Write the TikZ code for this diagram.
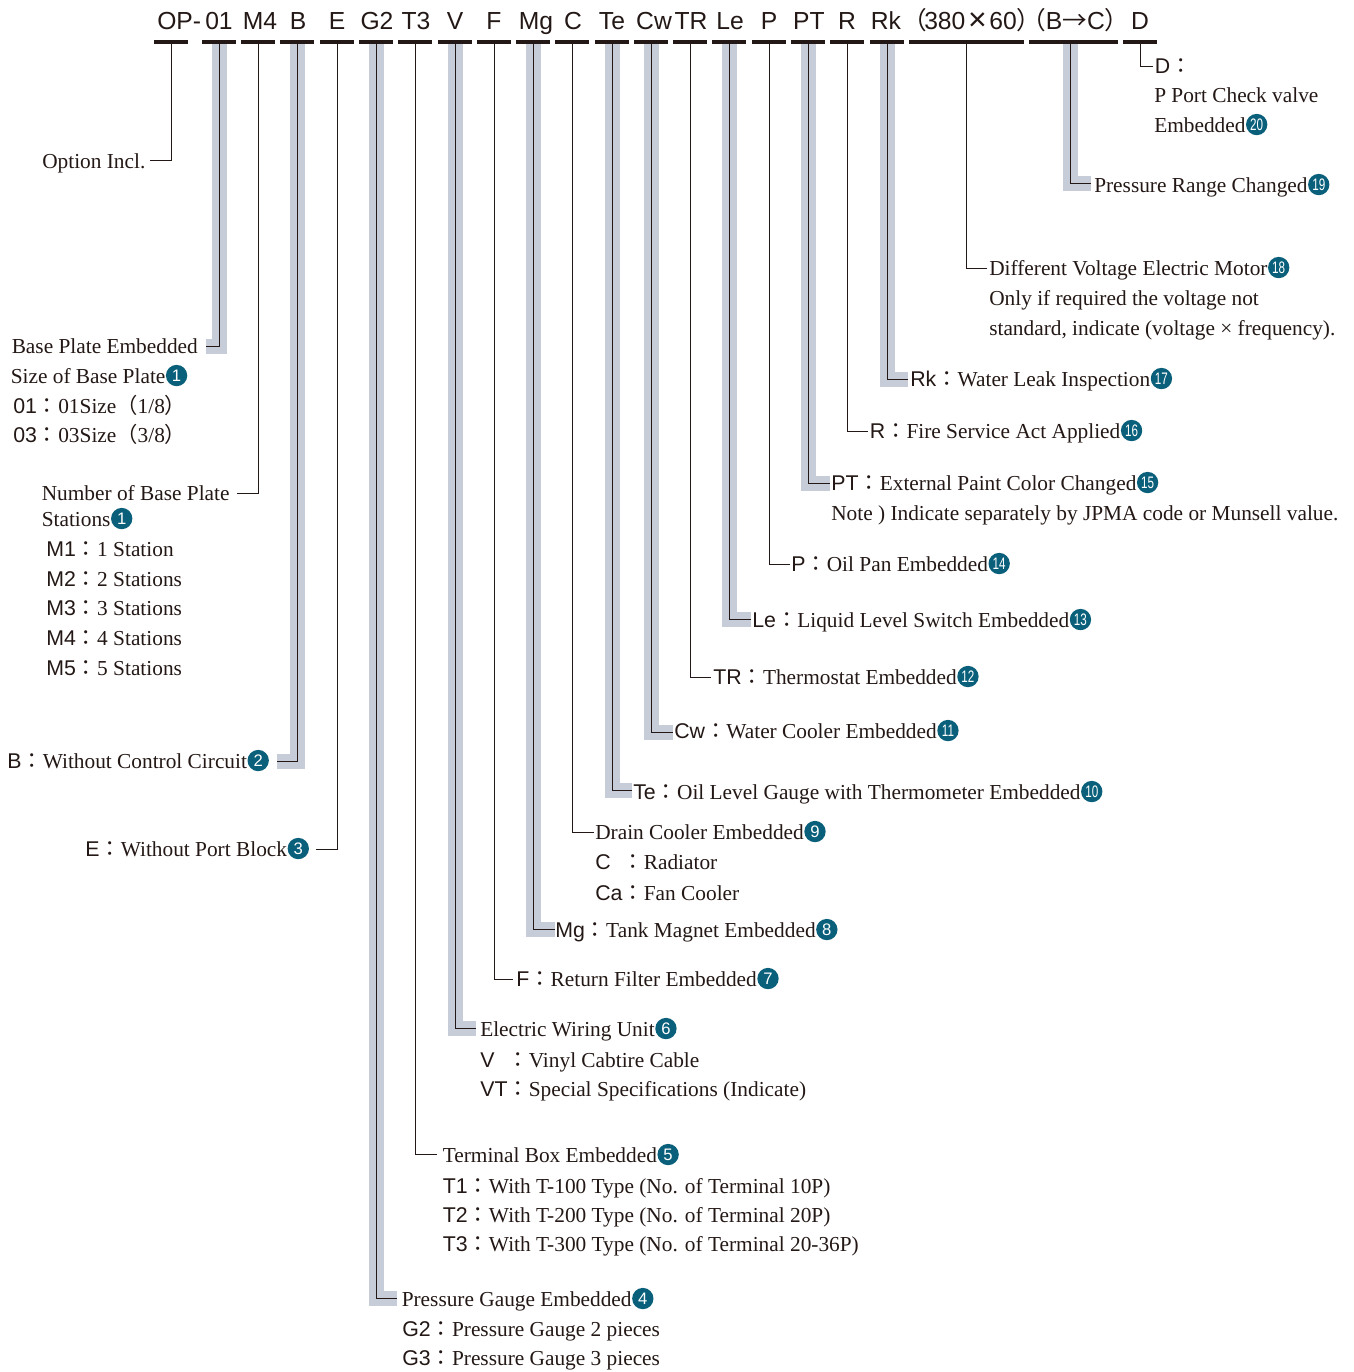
\documentclass[tikz,border=0pt]{standalone}
\usepackage{fontspec}
\usepackage{graphicx}
\setmainfont{Liberation Serif}
\setsansfont{Liberation Sans}
\newfontfamily\cjkfont{Noto Sans CJK JP}
\definecolor{inkblack}{HTML}{231815}
\definecolor{bandgray}{HTML}{C6CDD8}
\definecolor{dotblue}{HTML}{0A5F7A}
\newcommand{\keyc}[1]{{\sffamily\fontsize{16}{20}\selectfont #1}\raisebox{-0.7pt}{\cjkfont ：}}
\newcommand{\narrow}[1]{\scalebox{.7}[1]{#1}}

\begin{document}
\begin{tikzpicture}[x=0.75pt, y=-0.75pt,
    header/.style={anchor=base, inner sep=0pt, text=inkblack, font=\sffamily\fontsize{18.5}{22}\selectfont},
    keybar/.style={fill=inkblack, inner sep=0pt, minimum height=3pt, minimum width=25pt},
    lab/.style={anchor=base west, inner sep=0pt, text=inkblack, font=\fontsize{16}{20}\selectfont},
    numdot/.style={circle, fill=dotblue, anchor=west, inner sep=0pt, minimum size=16pt, yshift=5.6pt, text=white, font=\sffamily\fontsize{12.5}{13}\selectfont},
    leader/.style={draw=inkblack, line width=0.75pt},
    band/.style={draw=bandgray, line width=11.25pt, miter limit=10}]
    \useasboundingbox (0,0) rectangle (1354,1372);

    % header row
    \node[header, anchor=base west] (hOP) at (157,29.3) {OP-};
    \node[header] (h01) at (219,29.3) {01};
    \node[header] (hM4) at (260,29.3) {M4};
    \node[header] (hB) at (298,29.3) {B};
    \node[header] (hE) at (337,29.3) {E};
    \node[header] (hG2) at (377,29.3) {G2};
    \node[header] (hT3) at (416,29.3) {T3};
    \node[header] (hV) at (455,29.3) {V};
    \node[header] (hF) at (494,29.3) {F};
    \node[header] (hMg) at (536,29.3) {Mg};
    \node[header] (hC) at (573,29.3) {C};
    \node[header] (hTe) at (612,29.3) {Te};
    \node[header] (hCw) at (654,29.3) {Cw};
    \node[header] (hTR) at (691,29.3) {TR};
    \node[header] (hLe) at (730,29.3) {Le};
    \node[header] (hP) at (769,29.3) {P};
    \node[header] (hPT) at (809,29.3) {PT};
    \node[header] (hR) at (847,29.3) {R};
    \node[header] (hRk) at (886,29.3) {Rk};
    \node[header, anchor=base west] (hVolt) at (902,29.3) {{\cjkfont （}\hspace*{-2pt}380\hspace*{2pt}\raisebox{-1pt}{\scalebox{1.3}{×}}\hspace*{2pt}60{\cjkfont ）}};
    \node[header, anchor=base west] (hRange) at (1021,29.3) {{\cjkfont （}B{\cjkfont →}C{\cjkfont ）}};
    \node[header] (hD) at (1140,29.3) {D};

    % bars under the header
    \node[keybar] (bOP) at (171,42) {};
    \node[keybar] (b01) at (219,42) {};
    \node[keybar] (bM4) at (258,42) {};
    \node[keybar] (bB) at (297,42) {};
    \node[keybar] (bE) at (337,42) {};
    \node[keybar] (bG2) at (376,42) {};
    \node[keybar] (bT3) at (415,42) {};
    \node[keybar] (bV) at (455,42) {};
    \node[keybar] (bF) at (494,42) {};
    \node[keybar] (bMg) at (533,42) {};
    \node[keybar] (bC) at (572,42) {};
    \node[keybar] (bTe) at (612,42) {};
    \node[keybar] (bCw) at (651,42) {};
    \node[keybar] (bTR) at (690,42) {};
    \node[keybar] (bLe) at (729,42) {};
    \node[keybar] (bP) at (769,42) {};
    \node[keybar] (bPT) at (808,42) {};
    \node[keybar] (bR) at (847,42) {};
    \node[keybar] (bRk) at (887,42) {};
    \node[keybar, minimum width=86pt] (bVolt) at (966.5,42) {};
    \node[keybar, minimum width=67pt] (bRange) at (1073.5,42) {};
    \node[keybar] (bD) at (1140,42) {};

    % ends of the leaders
    \coordinate (eOP) at (150,160);
    \coordinate (e01) at (206,346);
    \coordinate (eM4) at (237,493);
    \coordinate (eB) at (277,761);
    \coordinate (eE) at (316,849);
    \coordinate (eG2) at (397,1298);
    \coordinate (eT3) at (437,1154);
    \coordinate (eV) at (476,1028);
    \coordinate (eF) at (513,979);
    \coordinate (eMg) at (555,929);
    \coordinate (eC) at (594,832);
    \coordinate (eTe) at (632,790);
    \coordinate (eCw) at (673,732);
    \coordinate (eTR) at (711,677);
    \coordinate (eLe) at (751,619);
    \coordinate (eP) at (790,564);
    \coordinate (ePT) at (830,483);
    \coordinate (eR) at (868,431);
    \coordinate (eRk) at (908,379);
    \coordinate (eVolt) at (987,268);
    \coordinate (eRange) at (1091,183);
    \coordinate (eD) at (1153,66);
    \coordinate (sRange) at (1070,44);

    % wide bands behind some leaders
    \draw[band] (b01.south) |- (e01);
    \draw[band] (bB.south) |- (eB);
    \draw[band] (bG2.south) |- (eG2);
    \draw[band] (bV.south) |- (eV);
    \draw[band] (bMg.south) |- (eMg);
    \draw[band] (bTe.south) |- (eTe);
    \draw[band] (bCw.south) |- (eCw);
    \draw[band] (bLe.south) |- (eLe);
    \draw[band] (bPT.south) |- (ePT);
    \draw[band] (bRk.south) |- (eRk);
    \draw[band] (sRange) |- (eRange);

    \draw[leader] (bOP) |- (eOP);
    \draw[leader] (b01) |- (e01);
    \draw[leader] (bM4) |- (eM4);
    \draw[leader] (bB) |- (eB);
    \draw[leader] (bE) |- (eE);
    \draw[leader] (bG2) |- (eG2);
    \draw[leader] (bT3) |- (eT3);
    \draw[leader] (bV) |- (eV);
    \draw[leader] (bF) |- (eF);
    \draw[leader] (bMg) |- (eMg);
    \draw[leader] (bC) |- (eC);
    \draw[leader] (bTe) |- (eTe);
    \draw[leader] (bCw) |- (eCw);
    \draw[leader] (bTR) |- (eTR);
    \draw[leader] (bLe) |- (eLe);
    \draw[leader] (bP) |- (eP);
    \draw[leader] (bPT) |- (ePT);
    \draw[leader] (bR) |- (eR);
    \draw[leader] (bRk) |- (eRk);
    \draw[leader] (bVolt) |- (eVolt);
    \draw[leader] (sRange) |- (eRange);
    \draw[leader] (bD) |- (eD);

    % left column
    \node[lab] (tOP) at (42,168) {Option Incl.};
    \node[lab] (t01) at (11.5,353) {Base Plate Embedded};
    \node[lab] (t01a) at (10.5,383) {Size of Base Plate};
    \node[numdot] (n01) at (t01a.base east) {1};
    \node[lab] (t01b) at (13,413) {\keyc{01}01Size{\cjkfont （}1/8{\cjkfont ）}};
    \node[lab] (t01c) at (13,442) {\keyc{03}03Size{\cjkfont （}3/8{\cjkfont ）}};
    \node[lab] (tM4) at (41.5,500) {Number of Base Plate};
    \node[lab] (tM4a) at (41.5,526) {Stations};
    \node[numdot] (nM4) at (tM4a.base east) {1};
    \node[lab] (tM1) at (46,556) {\keyc{M1}1 Station};
    \node[lab] (tM2) at (46,586) {\keyc{M2}2 Stations};
    \node[lab] (tM3) at (46,615) {\keyc{M3}3 Stations};
    \node[lab] (tM4b) at (46,645) {\keyc{M4}4 Stations};
    \node[lab] (tM5) at (46,675) {\keyc{M5}5 Stations};
    \node[lab] (tB) at (7,768) {\keyc{B}Without Control Circuit};
    \node[numdot] (nB) at (tB.base east) {2};
    \node[lab] (tE) at (85,856) {\keyc{E}Without Port Block};
    \node[numdot] (nE) at (tE.base east) {3};

    % staircase of labels, bottom to top
    \node[lab] (tG) at (401.5,1306) {Pressure Gauge Embedded};
    \node[numdot] (nG) at (tG.base east) {4};
    \node[lab] (tG2) at (402,1336) {\keyc{G2}Pressure Gauge 2 pieces};
    \node[lab] (tG3) at (402,1365) {\keyc{G3}Pressure Gauge 3 pieces};
    \node[lab] (tT) at (442.5,1162) {Terminal Box Embedded};
    \node[numdot] (nT) at (tT.base east) {5};
    \node[lab] (tT1) at (442.5,1193) {\keyc{T1}With T-100 Type (No. of Terminal 10P)};
    \node[lab] (tT2) at (442.5,1222) {\keyc{T2}With T-200 Type (No. of Terminal 20P)};
    \node[lab] (tT3) at (442.5,1251) {\keyc{T3}With T-300 Type (No. of Terminal 20-36P)};
    \node[lab] (tV) at (480,1036) {Electric Wiring Unit};
    \node[numdot] (nV) at (tV.base east) {6};
    \node[lab] (tV1) at (480,1067) {\keyc{V\phantom{T}}Vinyl Cabtire Cable};
    \node[lab] (tV2) at (480,1096) {\keyc{VT}Special Specifications (Indicate)};
    \node[lab] (tF) at (516,986) {\keyc{F}Return Filter Embedded};
    \node[numdot] (nF) at (tF.base east) {7};
    \node[lab] (tMg) at (555,937) {\keyc{Mg}Tank Magnet Embedded};
    \node[numdot] (nMg) at (tMg.base east) {8};
    \node[lab] (tC) at (595,839) {Drain Cooler Embedded};
    \node[numdot] (nC) at (tC.base east) {9};
    \node[lab] (tC1) at (595,869) {\keyc{C\phantom{a}}Radiator};
    \node[lab] (tC2) at (595,900) {\keyc{Ca}Fan Cooler};
    \node[lab] (tTe) at (633,799) {\keyc{Te}Oil Level Gauge with Thermometer Embedded};
    \node[numdot] (nTe) at (tTe.base east) {\narrow{10}};
    \node[lab] (tCw) at (674,738) {\keyc{Cw}Water Cooler Embedded};
    \node[numdot] (nCw) at (tCw.base east) {\narrow{11}};
    \node[lab] (tTR) at (713,684) {\keyc{TR}Thermostat Embedded};
    \node[numdot] (nTR) at (tTR.base east) {\narrow{12}};
    \node[lab] (tLe) at (752,627) {\keyc{Le}Liquid Level Switch Embedded};
    \node[numdot] (nLe) at (tLe.base east) {\narrow{13}};
    \node[lab] (tP) at (791,571) {\keyc{P}Oil Pan Embedded};
    \node[numdot] (nP) at (tP.base east) {\narrow{14}};
    \node[lab] (tPT) at (831,490) {\keyc{PT}External Paint Color Changed};
    \node[numdot] (nPT) at (tPT.base east) {\narrow{15}};
    \node[lab] (tPTa) at (831,520) {Note ) Indicate separately by JPMA code or Munsell value.};
    \node[lab] (tR) at (869.5,438) {\keyc{R}Fire Service Act Applied};
    \node[numdot] (nR) at (tR.base east) {\narrow{16}};
    \node[lab] (tRk) at (910,386) {\keyc{Rk}Water Leak Inspection};
    \node[numdot] (nRk) at (tRk.base east) {\narrow{17}};
    \node[lab] (tVolt) at (989,275) {Different Voltage Electric Motor};
    \node[numdot] (nVolt) at (tVolt.base east) {\narrow{18}};
    \node[lab] (tVolta) at (989,305) {Only if required the voltage not};
    \node[lab] (tVoltb) at (989,335) {standard, indicate (voltage × frequency).};
    \node[lab] (tRange) at (1094,192) {Pressure Range Changed};
    \node[numdot] (nRange) at (tRange.base east) {\narrow{19}};
    \node[lab] (tD) at (1154.5,73) {\keyc{D}};
    \node[lab] (tDa) at (1154,102) {P Port Check valve};
    \node[lab] (tDb) at (1154,132) {Embedded};
    \node[numdot] (nD) at (tDb.base east) {\narrow{20}};
\end{tikzpicture}
\end{document}
